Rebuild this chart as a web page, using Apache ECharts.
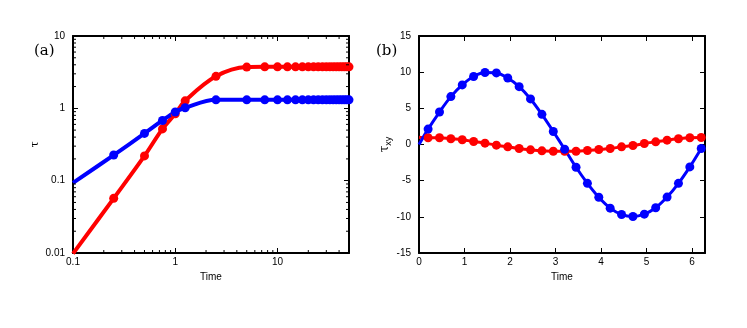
<!DOCTYPE html>
<html>
<head>
<meta charset="utf-8">
<script src="https://cdn.jsdelivr.net/npm/echarts@6/dist/echarts.min.js"></script>
<style>
  html, body { margin: 0; padding: 0; background: #fff; }
  #chart { width: 747px; height: 328px; }
</style>
</head>
<body>
<div id="chart"></div>
<script>
// panel (a): log-log growth
const timeA = [0.1, 0.25, 0.5, 0.75, 1, 1.25, 2.5, 5, 7.5, 10, 12.5, 15, 17.5, 20, 22.5, 25, 27.5, 30, 32.5, 35, 37.5, 40, 42.5, 45, 47.5, 50];
const redA = [0.0098, 0.057, 0.22, 0.52, 0.84, 1.27, 2.77, 3.72, 3.75, 3.75, 3.75, 3.75, 3.75, 3.75, 3.75, 3.75, 3.75, 3.75, 3.75, 3.75, 3.75, 3.75, 3.75, 3.75, 3.75, 3.75];
const blueA = [0.093, 0.226, 0.45, 0.68, 0.89, 1.02, 1.31, 1.31, 1.31, 1.31, 1.31, 1.31, 1.31, 1.31, 1.31, 1.31, 1.31, 1.31, 1.31, 1.31, 1.31, 1.31, 1.31, 1.31, 1.31, 1.31];
const minorXA = [0.2, 0.3, 0.4, 0.5, 0.6, 0.7, 0.8, 0.9, 2, 3, 4, 5, 6, 7, 8, 9, 20, 30, 40];
const minorYA = [0.02, 0.03, 0.04, 0.05, 0.06, 0.07, 0.08, 0.09, 0.2, 0.3, 0.4, 0.5, 0.6, 0.7, 0.8, 0.9, 2, 3, 4, 5, 6, 7, 8, 9];

// panel (b): oscillatory shear stress
const timeB = [0, 0.2, 0.45, 0.7, 0.95, 1.2, 1.45, 1.7, 1.95, 2.2, 2.45, 2.7, 2.95, 3.2, 3.45, 3.7, 3.95, 4.2, 4.45, 4.7, 4.95, 5.2, 5.45, 5.7, 5.95, 6.2];
const blueB = [0, 2.13, 4.49, 6.62, 8.24, 9.4, 9.95, 9.9, 9.2, 8.0, 6.3, 4.17, 1.8, -0.65, -3.15, -5.37, -7.3, -8.8, -9.68, -9.95, -9.63, -8.75, -7.27, -5.37, -3.1, -0.56];
const redB = [1.0, 0.93, 0.93, 0.79, 0.65, 0.42, 0.19, -0.09, -0.32, -0.56, -0.74, -0.88, -0.93, -0.95, -0.93, -0.83, -0.69, -0.56, -0.32, -0.14, 0.14, 0.37, 0.6, 0.79, 0.93, 0.97];

const myChart = echarts.init(document.getElementById('chart'));

const tickFont = { fontFamily: 'Liberation Sans, Arial, sans-serif', fontSize: 10, color: '#000' };
const frame = { show: true, onZero: false, lineStyle: { color: '#000', width: 2 } };
const serif = 'DejaVu Serif, Liberation Serif, serif';

function pairs(xs, ys, skipFirst) {
  return xs.map((x, i) => {
    if (skipFirst && i === 0) return { value: [x, ys[i]], symbol: 'none' };
    return [x, ys[i]];
  });
}

function lineSeries(xi, yi, data, color, width) {
  return {
    type: 'line',
    xAxisIndex: xi,
    yAxisIndex: yi,
    data: data,
    smooth: 0.35,
    symbol: 'circle',
    symbolSize: 9,
    showAllSymbol: true,
    color: color,
    lineStyle: { color: color, width: width },
    itemStyle: { color: color },
    z: 3,
  };
}

// minor ticks on the log axes, drawn on both sides of the frame
function minorTickSeries(xi, yi, vals, dir) {
  return {
    type: 'custom',
    xAxisIndex: xi,
    yAxisIndex: yi,
    silent: true,
    z: 4,
    data: vals.map((v) => (dir === 'x' ? [v, 1] : [1, v])),
    renderItem: function (params, api) {
      const cs = params.coordSys;
      const p = api.coord([api.value(0), api.value(1)]);
      const len = 3;
      const style = { stroke: '#000', lineWidth: 1 };
      let a, b;
      if (dir === 'x') {
        a = { x1: p[0], y1: cs.y + cs.height, x2: p[0], y2: cs.y + cs.height - len };
        b = { x1: p[0], y1: cs.y, x2: p[0], y2: cs.y + len };
      } else {
        a = { x1: cs.x, y1: p[1], x2: cs.x + len, y2: p[1] };
        b = { x1: cs.x + cs.width, y1: p[1], x2: cs.x + cs.width - len, y2: p[1] };
      }
      return {
        type: 'group',
        children: [
          { type: 'line', shape: a, style: style },
          { type: 'line', shape: b, style: style },
        ],
      };
    },
  };
}

const tickIn = { show: true, inside: true, length: 5, lineStyle: { color: '#000', width: 1 } };

const option = {
  backgroundColor: '#fff',
  animation: false,
  title: [
    { text: '(a)', left: 29, top: 39, textStyle: { fontFamily: serif, fontSize: 15, fontWeight: 'normal', color: '#000' } },
    { text: '(b)', left: 371, top: 39, textStyle: { fontFamily: serif, fontSize: 15, fontWeight: 'normal', color: '#000' } },
  ],
  grid: [
    { left: 73, top: 36, width: 276, height: 217 },
    { left: 419, top: 36, width: 286, height: 217 },
  ],
  xAxis: [
    {
      type: 'log', gridIndex: 0, min: 0.1, max: 50, logBase: 10,
      axisLine: frame, axisTick: tickIn, splitLine: { show: false },
      axisLabel: Object.assign({ margin: 4, showMaxLabel: false }, tickFont),
      name: 'Time', nameLocation: 'middle', nameGap: 19, nameMoveOverlap: false,
      nameTextStyle: tickFont,
    },
    {
      type: 'log', gridIndex: 0, min: 0.1, max: 50, position: 'top',
      axisLine: frame, axisTick: tickIn, splitLine: { show: false }, axisLabel: { show: false },
    },
    {
      type: 'value', gridIndex: 1, min: 0, max: 6.283, interval: 1,
      axisLine: frame, axisTick: tickIn, splitLine: { show: false },
      axisLabel: Object.assign({ margin: 4, showMaxLabel: false }, tickFont),
      name: 'Time', nameLocation: 'middle', nameGap: 19, nameMoveOverlap: false,
      nameTextStyle: tickFont,
    },
    {
      type: 'value', gridIndex: 1, min: 0, max: 6.283, interval: 1, position: 'top',
      axisLine: frame, axisTick: tickIn, splitLine: { show: false }, axisLabel: { show: false },
    },
  ],
  yAxis: [
    {
      type: 'log', gridIndex: 0, min: 0.01, max: 10,
      axisLine: frame, axisTick: tickIn, splitLine: { show: false },
      axisLabel: Object.assign({ margin: 8 }, tickFont),
      name: 'τ', nameLocation: 'middle', nameRotate: 90, nameGap: 32,
      nameTextStyle: { fontFamily: serif, fontSize: 11, color: '#000' },
    },
    {
      type: 'log', gridIndex: 0, min: 0.01, max: 10, position: 'right',
      axisLine: frame, axisTick: tickIn, splitLine: { show: false }, axisLabel: { show: false },
    },
    {
      type: 'value', gridIndex: 1, min: -15, max: 15, interval: 5,
      axisLine: frame, axisTick: tickIn, splitLine: { show: false },
      axisLabel: Object.assign({ margin: 8 }, tickFont),
      name: '{t|τ}{s|xy}', nameLocation: 'middle', nameRotate: 90, nameGap: 23,
      nameTextStyle: {
        rich: {
          t: { fontFamily: serif, fontSize: 12, color: '#000' },
          s: { fontFamily: 'Liberation Sans, sans-serif', fontSize: 9, color: '#000', verticalAlign: 'bottom', padding: [6, 0, 0, 0] },
        },
      },
    },
    {
      type: 'value', gridIndex: 1, min: -15, max: 15, interval: 5, position: 'right',
      axisLine: frame, axisTick: tickIn, splitLine: { show: false }, axisLabel: { show: false },
    },
  ],
  series: [
    lineSeries(0, 0, pairs(timeA, redA, true), '#ff0000', 4),
    lineSeries(0, 0, pairs(timeA, blueA, true), '#0000ff', 4),
    minorTickSeries(0, 0, minorXA, 'x'),
    minorTickSeries(0, 0, minorYA, 'y'),
    lineSeries(2, 2, pairs(timeB, redB, true), '#ff0000', 3),
    lineSeries(2, 2, pairs(timeB, blueB, true), '#0000ff', 3),
  ],
};

myChart.setOption(option);
</script>
</body>
</html>
